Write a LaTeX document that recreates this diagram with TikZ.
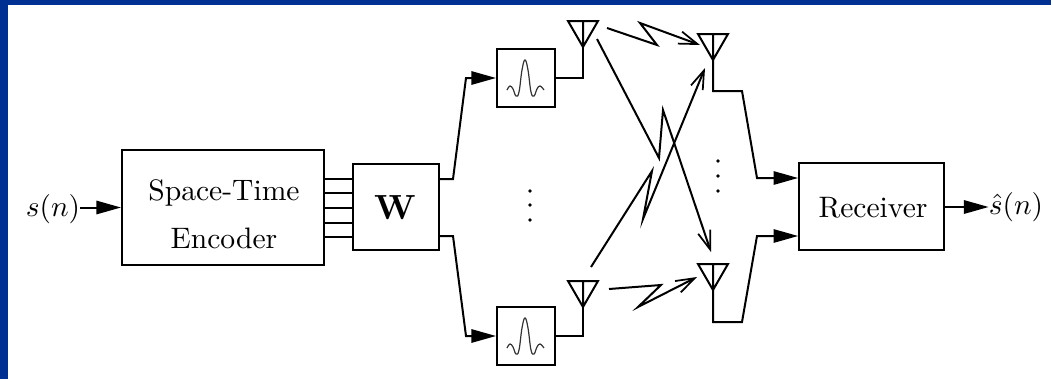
\documentclass[tikz,border=0pt]{standalone}
\usepackage{graphicx}
\usetikzlibrary{arrows.meta,calc}
\definecolor{bandblue}{HTML}{003192}
\tikzset{
  x=0.75pt,y=-0.75pt,
  wire/.style={draw=black,line width=1.5pt,line join=miter},
  solidarrow/.style={wire,-{Triangle[length=18.5pt,width=10pt]}},
  radio/.style={draw=black,line width=1.5pt,line join=miter,-{Straight Barb[length=14pt,width=9.5pt,line width=1.3pt]}},
  blockbox/.style={draw=black,line width=1.5pt,fill=white,inner sep=0pt,align=center},
  label/.style={inner sep=0pt},
  pulse/.style={draw=black!80,line width=0.9pt},
  dot/.style={circle,fill=black,inner sep=0pt,minimum size=2.8pt},
  aerial/.style={draw=black,line width=1.5pt,line join=miter}
}
\newcommand{\lbltext}[1]{\scalebox{2.22}{#1}}
\newcommand{\lblmath}[1]{\scalebox{2.2}{#1}}
\newcommand{\antenna}[2]{%
  \coordinate (#2) at (#1);
  \coordinate (#2tl) at ($(#1)+(-15,-26)$);
  \coordinate (#2tr) at ($(#1)+(15,-26)$);
  \coordinate (#2tc) at ($(#1)+(0,-26)$);
  \draw[aerial] (#2tl) -- (#2tr) -- (#2) -- cycle (#2tc) -- (#2);
}
\newcommand{\sincpulse}[1]{%
  \draw[pulse] plot[smooth,tension=0.7] coordinates {
   ($(#1)+(-19,12)$) ($(#1)+(-16,8)$) ($(#1)+(-13,11)$) ($(#1)+(-10,18)$) ($(#1)+(-7,14)$) ($(#1)+(-4,-8)$) ($(#1)+(-1,-18)$)
   ($(#1)+(2,-8)$) ($(#1)+(5,14)$) ($(#1)+(8,18)$) ($(#1)+(11,11)$) ($(#1)+(14,8)$) ($(#1)+(18,12)$)};
}
\begin{document}
\begin{tikzpicture}
\useasboundingbox (0,0) rectangle (1051,379);
\fill[white] (0,0) rectangle (1051,379);
\fill[bandblue] (0,0) rectangle (1051,5);
\fill[bandblue] (0,0) rectangle (8,379);

\node[blockbox,minimum width=151.5pt,minimum height=86pt] (enc) at (223,207.5) {};
\node[label] (encA) at (224,193) {\lbltext{Space-Time}};
\node[label] (encB) at (224,238) {\lbltext{Encoder}};
\node[blockbox,minimum width=64.5pt,minimum height=64.5pt] (w) at (396,207) {};
\node[label] (wt) at (395,208) {\scalebox{2.62}{\bfseries W}};
\node[blockbox,minimum width=43.5pt,minimum height=43.5pt] (f1) at (526,78) {};
\node[blockbox,minimum width=43.5pt,minimum height=43.5pt] (f2) at (526,336) {};
\node[blockbox,minimum width=108.5pt,minimum height=65pt] (rx) at (871.5,206.5) {};
\node[label] (rxt) at (873,208) {\lbltext{Receiver}};
\node[label] (sin) at (53,209) {\lblmath{$s(n)$}};
\node[label] (sout) at (1016,207) {\lblmath{$\hat{s}(n)$}};

\sincpulse{526,78}
\sincpulse{526,336}

\antenna{583,47}{ta}
\antenna{583,307}{tb}
\antenna{713,60}{ra}
\antenna{713,290}{rb}

% input, output
\draw[solidarrow] (sin.east |- enc) -- (enc.west);
\draw[solidarrow] (rx.east |- sout) -- (sout.west);

% encoder to W
\foreach \yy in {179,193,208,223,237}{
  \draw[wire] (enc.east |- 0,\yy) -- (w.west |- 0,\yy);
}

% W to filters
\coordinate (wa1) at (453,179);
\coordinate (wa2) at (466,78);
\coordinate (wb1) at (453,236);
\coordinate (wb2) at (466,336);
\draw[solidarrow] (w.east |- wa1) -- (wa1) -- (wa2) -- (f1.west |- wa2);
\draw[solidarrow] (w.east |- wb1) -- (wb1) -- (wb2) -- (f2.west |- wb2);

% filters to antennas
\draw[wire] (f1.east) -- (ta |- f1.east) -- (ta);
\draw[wire] (f2.east) -- (tb |- f2.east) -- (tb);

% antennas to receiver
\coordinate (pa1) at (742,91);
\coordinate (pa2) at (757,178);
\coordinate (pb1) at (742,322);
\coordinate (pb2) at (757,236);
\draw[solidarrow] (ra) -- (ra |- pa1) -- (pa1) -- (pa2) -- (rx.west |- pa2);
\draw[solidarrow] (rb) -- (rb |- pb1) -- (pb1) -- (pb2) -- (rx.west |- pb2);

% radio links
\coordinate (l1a) at (607,28);
\coordinate (l1b) at (657,45);
\coordinate (l1c) at (640,23);
\coordinate (l1d) at (700,45);
\draw[radio] (l1a) -- (l1b) -- (l1c) -- (l1d);
\coordinate (l2a) at (597,39);
\coordinate (l2b) at (659,158);
\coordinate (l2c) at (663,110);
\coordinate (l2d) at (711,252);
\draw[radio] (l2a) -- (l2b) -- (l2c) -- (l2d);
\coordinate (l3a) at (591,267);
\coordinate (l3b) at (652,171);
\coordinate (l3c) at (643,219);
\coordinate (l3d) at (705,68);
\draw[radio] (l3a) -- (l3b) -- (l3c) -- (l3d);
\coordinate (l4a) at (609,289);
\coordinate (l4b) at (661,285);
\coordinate (l4c) at (638,307);
\coordinate (l4d) at (697,277);
\draw[radio] (l4a) -- (l4b) -- (l4c) -- (l4d);

% dots
\foreach \yy [count=\i] in {191,205,220}{ \node[dot] (dl\i) at (530,\yy) {}; }
\foreach \yy [count=\i] in {161,176,191}{ \node[dot] (dr\i) at (718,\yy) {}; }
\end{tikzpicture}
\end{document}
